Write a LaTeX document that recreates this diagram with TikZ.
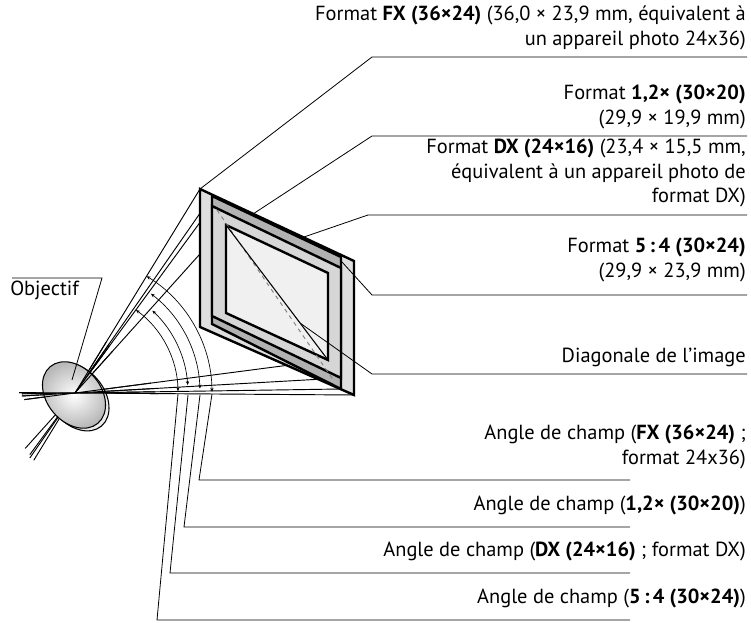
\documentclass[tikz,border=0pt]{standalone}
\usepackage{fontspec}
\setmainfont{PT Sans}
\usetikzlibrary{calc,arrows.meta}
\begin{document}
\begin{tikzpicture}[x=0.75pt,y=-0.75pt,
  lbl/.style={anchor=north east,align=right,inner sep=0pt,font=\fontsize{15.3}{18.2}\selectfont},
  lead/.style={line width=0.6pt},
  ray/.style={line width=0.7pt},
  frm/.style={line width=1.8pt,line join=miter},
  arcs/.style={line width=0.5pt,{Stealth[length=3pt,width=2.5pt]}-{Stealth[length=3pt,width=2.5pt]}}]
\useasboundingbox (0,0) rectangle (751,623);
% lens centre
\coordinate (L) at (75,393);
% frames
\coordinate (fx1) at (200,189); \coordinate (fx2) at (354,261); \coordinate (fx3) at (354,395); \coordinate (fx4) at (200,327);
\coordinate (f1) at (212,196); \coordinate (f2) at (341,257); \coordinate (f3) at (341,389); \coordinate (f4) at (212,324);
\coordinate (t1) at (212,206); \coordinate (t2) at (341,268); \coordinate (t3) at (341,378); \coordinate (t4) at (212,316);
\coordinate (d1) at (226,225); \coordinate (d2) at (328,273); \coordinate (d3) at (328,360); \coordinate (d4) at (226,313);
% rays (behind)
\foreach \p in {fx1,f1,t1,d1}{\draw[ray] ($(\p)!1.33!(L)$) -- (\p);}
\foreach \p in {fx3,f3,t3,d3}{\draw[ray] ($(\p)!1.2!(L)$) -- (\p);}
\draw[frm,fill=gray!25] (fx1)--(fx2)--(fx3)--(fx4)--cycle;
\draw[frm,fill=gray!60] (f1)--(f2)--(f3)--(f4)--cycle;
\draw[frm,fill=gray!32] (t1)--(t2)--(t3)--(t4)--cycle;
\draw[frm,fill=gray!12] (d1)--(d2)--(d3)--(d4)--cycle;
\draw[gray,dashed,line width=0.7pt] (217,210) -- (334,381);
\draw[line width=0.8pt] (d1) -- (d3);
% lens
\draw[line width=0.8pt,fill=gray!15] (77,397) ellipse[x radius=38,y radius=27,rotate=-50];
\shade[draw,line width=0.8pt,inner color=white,outer color=gray!55] (74,395) ellipse[x radius=37,y radius=27,rotate=-50];
\node[inner sep=0pt] (lens) at (74,395) {};
\foreach \p in {fx1,f1,t1,d1}{\draw[ray] (L) -- ($(L)!0.25!(\p)$);}
\foreach \p in {fx3,f3,t3,d3}{\draw[ray] ($(\p)!1.2!(L)$) -- ($(L)!0.3!(\p)$);}
% arcs
\draw[arcs] (L) ++(-0.5:137) arc[start angle=-0.5,end angle=-58.5,radius=137];
\draw[arcs] (L) ++(-2:125) arc[start angle=-2,end angle=-52.6,radius=125];
\draw[arcs] (L) ++(-4:113) arc[start angle=-4,end angle=-46.8,radius=113];
\draw[arcs] (L) ++(-1:103) arc[start angle=-1,end angle=-53.7,radius=103];
% labels top
\node[lbl] (lfx) at (746,6) {Format \textbf{FX (36×24)} (36,0 × 23,9 mm, équivalent à\\un appareil photo 24x36)};
\node[lbl] (l12) at (746,85) {Format \textbf{1,2× (30×20)}\\(29,9 × 19,9 mm)};
\node[lbl] (ldx) at (746,139) {Format \textbf{DX (24×16)} (23,4 × 15,5 mm,\\équivalent à un appareil photo de\\format DX)};
\node[lbl] (l54) at (746,238) {Format \textbf{5\,:\,4 (30×24)}\\(29,9 × 23,9 mm)};
\node[lbl] (ldi) at (746,348) {Diagonale de l’image};
\node[lbl] (afx) at (746,425) {Angle de champ (\textbf{FX (36×24)} ;\\format 24x36)};
\node[lbl] (a12) at (746,496) {Angle de champ (\textbf{1,2× (30×20)})};
\node[lbl] (adx) at (746,542) {Angle de champ (\textbf{DX (24×16)} ; format DX)};
\node[lbl] (a54) at (746,589) {Angle de champ (\textbf{5\,:\,4 (30×24)})};
\node[anchor=north west,inner sep=0pt,font=\fontsize{15.3}{18.2}\selectfont] (obj) at (10,281) {Objectif};
% leaders
\draw[lead] (fx1) -- (372,57) -- (747,57);
\draw[lead] (253,214) -- (372,136) -- (747,136);
\draw[lead] (304,237) -- (368,215) -- (747,215);
\draw[lead] (342,262) -- (372,295) -- (747,295);
\draw[lead] (300,323) -- (372,374) -- (747,374);
\draw[lead] (212,394) -- (199,480) -- (630,480);
\draw[lead] (200,395) -- (184,527) -- (630,527);
\draw[lead] (188,395) -- (170,573) -- (630,573);
\draw[lead] (178,394) -- (157,620) -- (630,620);
\draw[lead] (12,278) -- (102,278) -- (72,380);
\end{tikzpicture}
\end{document}
